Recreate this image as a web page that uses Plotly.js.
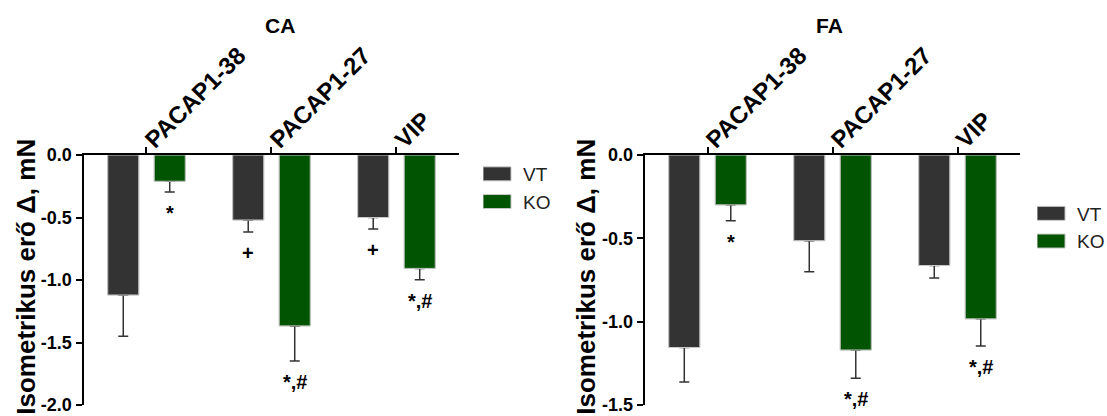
<!DOCTYPE html>
<html><head><meta charset="utf-8">
<script src="https://cdn.plot.ly/plotly-3.0.1.min.js"></script>
<style>html,body{margin:0;padding:0;background:#fff;} #chart{width:1107px;height:416px;}</style>
</head><body><div id="chart"></div>
<script>
// ---- data ----
const categories = ['PACAP1-38', 'PACAP1-27', 'VIP'];
const seriesNames = ['VT', 'KO'];
const panelTitles = ['CA', 'FA'];
const yTitle = 'Isometrikus erő Δ, mN';

const caVT = [-1.12, -0.52, -0.50];
const caVTerr = [0.33, 0.096, 0.091];
const caKO = [-0.21, -1.367, -0.907];
const caKOerr = [0.085, 0.28, 0.091];

const faVT = [-1.155, -0.514, -0.663];
const faVTerr = [0.207, 0.186, 0.075];
const faKO = [-0.299, -1.17, -0.983];
const faKOerr = [0.095, 0.17, 0.163];

const caSigVT = ['', '+', '+'];
const caSigKO = ['*', '*,#', '*,#'];
const faSigVT = ['', '', ''];
const faSigKO = ['*', '*,#', '*,#'];

const caTickVals = [-2, -1.5, -1, -0.5, 0];
const caTickText = ['-2.0', '-1.5', '-1.0', '-0.5', '0.0'];
const faTickVals = [-1.5, -1, -0.5, 0];
const faTickText = ['-1.5', '-1.0', '-0.5', '0.0'];

// ---- styles ----
const FONT = '"Liberation Sans", Arial, Helvetica, sans-serif';
const colors = {VT: '#333333', KO: '#015401'};

function bar(name, y, err, xa, ya, legendId, withErr, show) {
  const t = {
    type: 'bar', name: name, x: categories, y: y,
    xaxis: xa, yaxis: ya, legend: legendId,
    offsetgroup: name, showlegend: show,
    marker: {color: colors[name], line: {color: '#c8c8c8', width: 1}},
    hoverinfo: 'skip'
  };
  if (withErr) {
    t.error_y = {type: 'data', symmetric: false, array: err.map(() => 0), arrayminus: err,
                 color: '#333333', thickness: 1.5, width: 5};
  }
  return t;
}

const traces = [
  bar('VT', caVT, caVTerr, 'x', 'y', 'legend', true, false),
  bar('KO', caKO, caKOerr, 'x', 'y', 'legend', true, false),
  bar('VT', caVT, caVTerr, 'x', 'y', 'legend', false, true),
  bar('KO', caKO, caKOerr, 'x', 'y', 'legend', false, true),
  bar('VT', faVT, faVTerr, 'x2', 'y2', 'legend2', true, false),
  bar('KO', faKO, faKOerr, 'x2', 'y2', 'legend2', true, false),
  bar('VT', faVT, faVTerr, 'x2', 'y2', 'legend2', false, true),
  bar('KO', faKO, faKOerr, 'x2', 'y2', 'legend2', false, true)
];

const annotations = [];
function addSig(labels, vals, errs, xa, ya, shift) {
  labels.forEach((s, i) => {
    if (!s) return;
    annotations.push({
      text: s, x: categories[i], y: vals[i] - errs[i], xref: xa, yref: ya,
      xshift: shift, yshift: -21, yanchor: 'middle', xanchor: 'center', showarrow: false,
      font: {family: FONT, size: 20, color: '#000', weight: 'bold'}
    });
  });
}
addSig(caSigVT, caVT, caVTerr, 'x', 'y', -23.25);
addSig(caSigKO, caKO, caKOerr, 'x', 'y', 23.25);
addSig(faSigVT, faVT, faVTerr, 'x2', 'y2', -23.25);
addSig(faSigKO, faKO, faKOerr, 'x2', 'y2', 23.25);

[[panelTitles[0], 0.2094], [panelTitles[1], 0.797]].forEach(([t, xp]) => {
  annotations.push({text: t, x: xp, y: 1.52, xref: 'paper', yref: 'paper',
    xanchor: 'center', yanchor: 'middle', showarrow: false,
    font: {family: FONT, size: 21, color: '#000', weight: 'bold'}});
});

// y-axis titles (rotated), one per panel
[-0.062, 0.5363].forEach(xp => {
  annotations.push({text: yTitle, x: xp, y: 0.513, xref: 'paper', yref: 'paper',
    xanchor: 'center', yanchor: 'middle', textangle: -90, showarrow: false,
    font: {family: FONT, size: 26, color: '#000', weight: 'bold'}});
});

function xAxis(domain, anchor) {
  return {
    domain: domain, anchor: anchor, type: 'category', categoryorder: 'array', categoryarray: categories,
    range: [-0.5, 2.5], side: 'top', showline: true, linecolor: '#000', linewidth: 2.5,
    ticks: 'outside', ticklen: 6, tickwidth: 2, tickcolor: '#000', tickangle: -45,
    ticklabelstandoff: -16,
    showgrid: false, zeroline: false, fixedrange: true,
    tickfont: {family: FONT, size: 24, color: '#000', weight: 'bold'}
  };
}
function yAxis(anchor, range, tv, tt) {
  return {
    anchor: anchor, range: range, tickvals: tv, ticktext: tt,
    showline: true, linecolor: '#000', linewidth: 2.5,
    ticks: 'outside', ticklen: 6, tickwidth: 2, tickcolor: '#000',
    showgrid: false, zeroline: false, fixedrange: true,
    tickfont: {family: FONT, size: 18, color: '#000', weight: 'bold'}
  };
}

const legendBase = {
  xanchor: 'left', yanchor: 'top', bgcolor: 'rgba(0,0,0,0)', borderwidth: 0,
  font: {family: FONT, size: 19, color: '#222'}, tracegroupgap: 0, itemclick: false, itemdoubleclick: false
};

const layout = {
  width: 1107, height: 416,
  margin: {l: 84, r: 87, t: 155, b: 11, autoexpand: false},
  paper_bgcolor: '#fff', plot_bgcolor: '#fff',
  barmode: 'group', bargap: 0.256, bargroupgap: 0.333,
  showlegend: true,
  xaxis: xAxis([0, 0.4006], 'y'),
  xaxis2: xAxis([0.5994, 1], 'y2'),
  yaxis: yAxis('x', [-2, 0], caTickVals, caTickText),
  yaxis2: yAxis('x2', [-1.5, 0], faTickVals, faTickText),
  legend: Object.assign({x: 0.4263, y: 1.0}, legendBase),
  legend2: Object.assign({x: 1.0182, y: 0.842}, legendBase),
  annotations: annotations,
  font: {family: FONT}
};

Plotly.newPlot('chart', traces, layout, {displayModeBar: false, staticPlot: true}).then(gd => {
  gd.querySelectorAll('g.legendpoints path').forEach(p => p.setAttribute('d', 'M8,7H-20V-7H8Z'));
});
</script>
</body></html>
